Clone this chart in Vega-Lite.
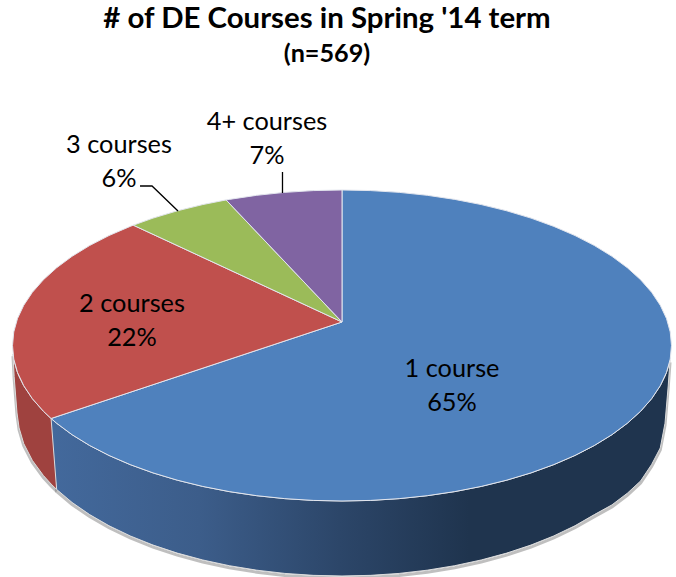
{"$schema":"https://vega.github.io/schema/vega-lite/v6.json","width":676,"height":577,"padding":0,"autosize":{"type":"none"},"background":"white","view":{"stroke":null},
"title":{"text":"# of DE Courses in Spring '14 term","subtitle":"(n=569)","anchor":"middle","orient":"top","offset":-68,"dx":-11,"font":"Lato","fontSize":29.4,"fontWeight":"bold","color":"black","subtitleFont":"Lato","subtitleFontSize":25.2,"subtitleFontWeight":"bold","subtitleColor":"black","subtitlePadding":7},
"datasets":{
"tops":[
{"s":"1 course","o":0,"x":0,"y":0.1511},{"s":"1 course","o":1,"x":0,"y":1},{"s":"1 course","o":2,"x":0.0872,"y":0.9962},{"s":"1 course","o":3,"x":0.1736,"y":0.9848},{"s":"1 course","o":4,"x":0.2588,"y":0.9659},{"s":"1 course","o":5,"x":0.342,"y":0.9397},{"s":"1 course","o":6,"x":0.4226,"y":0.9063},{"s":"1 course","o":7,"x":0.5,"y":0.866},{"s":"1 course","o":8,"x":0.5736,"y":0.8192},{"s":"1 course","o":9,"x":0.6428,"y":0.766},{"s":"1 course","o":10,"x":0.7071,"y":0.7071},{"s":"1 course","o":11,"x":0.766,"y":0.6428},{"s":"1 course","o":12,"x":0.8192,"y":0.5736},{"s":"1 course","o":13,"x":0.866,"y":0.5},{"s":"1 course","o":14,"x":0.9063,"y":0.4226},{"s":"1 course","o":15,"x":0.9397,"y":0.342},{"s":"1 course","o":16,"x":0.9659,"y":0.2588},{"s":"1 course","o":17,"x":0.9848,"y":0.1736},{"s":"1 course","o":18,"x":0.9962,"y":0.0872},{"s":"1 course","o":19,"x":1,"y":0},{"s":"1 course","o":20,"x":0.9962,"y":-0.0872},{"s":"1 course","o":21,"x":0.9848,"y":-0.1736},{"s":"1 course","o":22,"x":0.9659,"y":-0.2588},{"s":"1 course","o":23,"x":0.9397,"y":-0.342},{"s":"1 course","o":24,"x":0.9063,"y":-0.4226},{"s":"1 course","o":25,"x":0.866,"y":-0.5},{"s":"1 course","o":26,"x":0.8192,"y":-0.5736},{"s":"1 course","o":27,"x":0.766,"y":-0.6428},{"s":"1 course","o":28,"x":0.7071,"y":-0.7071},{"s":"1 course","o":29,"x":0.6428,"y":-0.766},{"s":"1 course","o":30,"x":0.5736,"y":-0.8192},{"s":"1 course","o":31,"x":0.5,"y":-0.866},{"s":"1 course","o":32,"x":0.4226,"y":-0.9063},{"s":"1 course","o":33,"x":0.342,"y":-0.9397},{"s":"1 course","o":34,"x":0.2588,"y":-0.9659},{"s":"1 course","o":35,"x":0.1736,"y":-0.9848},{"s":"1 course","o":36,"x":0.0872,"y":-0.9962},{"s":"1 course","o":37,"x":0,"y":-1},{"s":"1 course","o":38,"x":-0.0872,"y":-0.9962},{"s":"1 course","o":39,"x":-0.1736,"y":-0.9848},{"s":"1 course","o":40,"x":-0.2588,"y":-0.9659},{"s":"1 course","o":41,"x":-0.342,"y":-0.9397},{"s":"1 course","o":42,"x":-0.4226,"y":-0.9063},{"s":"1 course","o":43,"x":-0.5,"y":-0.866},{"s":"1 course","o":44,"x":-0.5736,"y":-0.8192},{"s":"1 course","o":45,"x":-0.6428,"y":-0.766},{"s":"1 course","o":46,"x":-0.7071,"y":-0.7071},{"s":"1 course","o":47,"x":-0.766,"y":-0.6428},{"s":"1 course","o":48,"x":-0.8192,"y":-0.5736},{"s":"1 course","o":49,"x":-0.866,"y":-0.5},{"s":"1 course","o":50,"x":-0.8829,"y":-0.4695},{"s":"1 course","o":51,"x":0,"y":0.1511},
{"s":"2 courses","o":0,"x":0,"y":0.1511},{"s":"2 courses","o":1,"x":-0.8829,"y":-0.4695},{"s":"2 courses","o":2,"x":-0.9063,"y":-0.4226},{"s":"2 courses","o":3,"x":-0.9397,"y":-0.342},{"s":"2 courses","o":4,"x":-0.9659,"y":-0.2588},{"s":"2 courses","o":5,"x":-0.9848,"y":-0.1736},{"s":"2 courses","o":6,"x":-0.9962,"y":-0.0872},{"s":"2 courses","o":7,"x":-1,"y":0},{"s":"2 courses","o":8,"x":-0.9962,"y":0.0872},{"s":"2 courses","o":9,"x":-0.9848,"y":0.1736},{"s":"2 courses","o":10,"x":-0.9659,"y":0.2588},{"s":"2 courses","o":11,"x":-0.9397,"y":0.342},{"s":"2 courses","o":12,"x":-0.9063,"y":0.4226},{"s":"2 courses","o":13,"x":-0.866,"y":0.5},{"s":"2 courses","o":14,"x":-0.8192,"y":0.5736},{"s":"2 courses","o":15,"x":-0.766,"y":0.6428},{"s":"2 courses","o":16,"x":-0.7071,"y":0.7071},{"s":"2 courses","o":17,"x":-0.6428,"y":0.766},{"s":"2 courses","o":18,"x":-0.6334,"y":0.7738},{"s":"2 courses","o":19,"x":0,"y":0.1511},
{"s":"3 courses","o":0,"x":0,"y":0.1511},{"s":"3 courses","o":1,"x":-0.6334,"y":0.7738},{"s":"3 courses","o":2,"x":-0.5736,"y":0.8192},{"s":"3 courses","o":3,"x":-0.5,"y":0.866},{"s":"3 courses","o":4,"x":-0.4226,"y":0.9063},{"s":"3 courses","o":5,"x":-0.3518,"y":0.9361},{"s":"3 courses","o":6,"x":0,"y":0.1511},
{"s":"4+ courses","o":0,"x":0,"y":0.1511},{"s":"4+ courses","o":1,"x":-0.3518,"y":0.9361},{"s":"4+ courses","o":2,"x":-0.342,"y":0.9397},{"s":"4+ courses","o":3,"x":-0.2588,"y":0.9659},{"s":"4+ courses","o":4,"x":-0.1736,"y":0.9848},{"s":"4+ courses","o":5,"x":-0.0872,"y":0.9962},{"s":"4+ courses","o":6,"x":0,"y":1},{"s":"4+ courses","o":7,"x":0,"y":0.1511}
],
"walls":[
{"s":"1 course","x":0.9955,"rim":-0.095,"base":-0.095},{"s":"1 course","x":0.99,"rim":-0.141,"base":-0.26},{"s":"1 course","x":0.9803,"rim":-0.1975,"base":-0.5},{"s":"1 course","x":0.9659,"rim":-0.2588,"base":-0.659},{"s":"1 course","x":0.9397,"rim":-0.342,"base":-0.765},{"s":"1 course","x":0.9063,"rim":-0.4226,"base":-0.871},{"s":"1 course","x":0.866,"rim":-0.5,"base":-0.95},{"s":"1 course","x":0.8192,"rim":-0.5736,"base":-1.025},{"s":"1 course","x":0.766,"rim":-0.6428,"base":-1.0873},{"s":"1 course","x":0.7071,"rim":-0.7071,"base":-1.1591},{"s":"1 course","x":0.6428,"rim":-0.766,"base":-1.2245},{"s":"1 course","x":0.5736,"rim":-0.8192,"base":-1.2832},{"s":"1 course","x":0.5,"rim":-0.866,"base":-1.335},{"s":"1 course","x":0.4226,"rim":-0.9063,"base":-1.3793},{"s":"1 course","x":0.342,"rim":-0.9397,"base":-1.4161},{"s":"1 course","x":0.2588,"rim":-0.9659,"base":-1.4449},{"s":"1 course","x":0.1736,"rim":-0.9848,"base":-1.4657},{"s":"1 course","x":0.0872,"rim":-0.9962,"base":-1.4781},{"s":"1 course","x":0,"rim":-1,"base":-1.4823},{"s":"1 course","x":-0.0872,"rim":-0.9962,"base":-1.4781},{"s":"1 course","x":-0.1736,"rim":-0.9848,"base":-1.4657},{"s":"1 course","x":-0.2588,"rim":-0.9659,"base":-1.4449},{"s":"1 course","x":-0.342,"rim":-0.9397,"base":-1.4161},{"s":"1 course","x":-0.4226,"rim":-0.9063,"base":-1.3793},{"s":"1 course","x":-0.5,"rim":-0.866,"base":-1.335},{"s":"1 course","x":-0.5736,"rim":-0.8192,"base":-1.2832},{"s":"1 course","x":-0.6428,"rim":-0.766,"base":-1.2245},{"s":"1 course","x":-0.7071,"rim":-0.7071,"base":-1.1591},{"s":"1 course","x":-0.766,"rim":-0.6428,"base":-1.0873},{"s":"1 course","x":-0.8192,"rim":-0.5736,"base":-1.0094},{"s":"1 course","x":-0.866,"rim":-0.5,"base":-0.9257},{"s":"1 course","x":-0.8829,"rim":-0.4695,"base":-0.4695},
{"s":"2 courses","x":-0.866,"rim":-0.5,"base":-0.9257},{"s":"2 courses","x":-0.8829,"rim":-0.4695,"base":-0.8908},{"s":"2 courses","x":-0.9063,"rim":-0.4226,"base":-0.836},{"s":"2 courses","x":-0.9397,"rim":-0.342,"base":-0.7391},{"s":"2 courses","x":-0.9659,"rim":-0.2588,"base":-0.631},{"s":"2 courses","x":-0.98,"rim":-0.199,"base":-0.53},{"s":"2 courses","x":-0.9863,"rim":-0.165,"base":-0.434},{"s":"2 courses","x":-0.995,"rim":-0.1,"base":-0.2},{"s":"2 courses","x":-0.9985,"rim":-0.055,"base":-0.055}
],
"leaders":[
{"s":"3 courses","o":0,"x":-0.613,"y":1.0257},{"s":"3 courses","o":1,"x":-0.5766,"y":1.0257},{"s":"3 courses","o":2,"x":-0.4977,"y":0.865},
{"s":"4+ courses","o":0,"x":-0.1806,"y":1.1158},{"s":"4+ courses","o":1,"x":-0.1806,"y":0.9807}
],
"labels":[
{"s":"1 course","share":65,"label":"1 course\n65%","x":0.3338,"y":-0.254},
{"s":"2 courses","share":22,"label":"2 courses\n22%","x":-0.6373,"y":0.164},
{"s":"3 courses","share":6,"label":"3 courses\n6%","x":-0.6768,"y":1.1897},
{"s":"4+ courses","share":7,"label":"4+ courses\n7%","x":-0.2276,"y":1.3344}
]},
"encoding":{
"x":{"field":"x","type":"quantitative","axis":null,"scale":{"domain":[-1.03794,1.01366],"nice":false,"zero":false}}
},
"layer":[
{"data":{"name":"walls"},"mark":{"type":"line","stroke":"#808080","strokeWidth":3,"opacity":0.5,"yOffset":2,"clip":true},"encoding":{"y":{"field":"base","type":"quantitative","axis":null,"scale":{"domain":[-1.48875,2.22186],"nice":false,"zero":false}},"detail":{"field":"s"}}},
{"data":{"name":"walls"},"transform":[{"filter":"datum.s === '2 courses'"}],"mark":{"type":"area","color":"#9f423f","stroke":"#dcdcdc","strokeWidth":1},"encoding":{"y":{"field":"rim","type":"quantitative","axis":null,"scale":{"domain":[-1.48875,2.22186],"nice":false,"zero":false}},"y2":{"field":"base"}}},
{"data":{"name":"walls"},"transform":[{"filter":"datum.s === '1 course'"}],"mark":{"type":"area","stroke":"#dcdcdc","strokeWidth":1,"color":{"gradient":"linear","x1":0,"x2":1,"y1":0,"y2":0,"stops":[{"offset":0,"color":"#43699c"},{"offset":0.24,"color":"#3c5d8a"},{"offset":0.466,"color":"#2c4669"},{"offset":0.676,"color":"#1f344e"},{"offset":1,"color":"#1f344e"}]}},"encoding":{"y":{"field":"rim","type":"quantitative","axis":null,"scale":{"domain":[-1.48875,2.22186],"nice":false,"zero":false}},"y2":{"field":"base"}}},
{"data":{"name":"tops"},"mark":{"type":"line","strokeWidth":1,"stroke":"#e3e6ee","strokeJoin":"round"},"encoding":{"y":{"field":"y","type":"quantitative","axis":null,"scale":{"domain":[-1.48875,2.22186],"nice":false,"zero":false}},"order":{"field":"o","type":"ordinal"},"detail":{"field":"s"},"fill":{"field":"s","type":"nominal","legend":null,"scale":{"domain":["1 course","2 courses","3 courses","4+ courses"],"range":["#4f81bd","#c0504d","#9bbb59","#8064a2"]}}}},
{"data":{"name":"leaders"},"mark":{"type":"line","stroke":"black","strokeWidth":1.3},"encoding":{"y":{"field":"y","type":"quantitative","axis":null,"scale":{"domain":[-1.48875,2.22186],"nice":false,"zero":false}},"order":{"field":"o","type":"ordinal"},"detail":{"field":"s"}}},
{"data":{"name":"labels"},"mark":{"type":"text","font":"Lato","fontSize":25.3,"lineBreak":"\n","lineHeight":34,"align":"center","baseline":"middle","color":"black","dy":-16},"encoding":{"y":{"field":"y","type":"quantitative","axis":null,"scale":{"domain":[-1.48875,2.22186],"nice":false,"zero":false}},"text":{"field":"label"}}}
]}
